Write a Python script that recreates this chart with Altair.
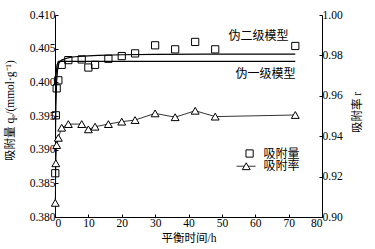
import altair as alt
import pandas as pd

FONT = "Liberation Serif, Times New Roman, serif, Noto Sans CJK SC"

# observed data
times = [0.083, 0.25, 0.5, 1, 2, 4, 8, 10, 12, 16, 20, 24, 30, 36, 42, 48, 72]
q_obs = [0.3865, 0.3951, 0.3991, 0.4003, 0.4026, 0.4033, 0.4034, 0.4022, 0.4026,
         0.4035, 0.4039, 0.4043, 0.4055, 0.4049, 0.4060, 0.4049, 0.4054]
r_obs = [0.907, 0.9266, 0.9356, 0.9392, 0.9442, 0.9460, 0.9460, 0.9434, 0.9447,
         0.9460, 0.9472, 0.9480, 0.9513, 0.9494, 0.9526, 0.9497, 0.9505]

# model curves
pfo_t = [0, 0.05, 0.1, 0.2, 0.35, 0.6, 1.0, 1.5, 72]
pfo_q = [0.380, 0.3885, 0.3935, 0.3985, 0.4012, 0.4026, 0.4030, 0.4031, 0.4031]
pso_t = [0, 0.1, 0.25, 0.5, 0.8, 1.2, 2, 3, 4.5, 6, 8.5, 13, 20, 30, 45, 72]
pso_q = [0.380, 0.3905, 0.3965, 0.4003, 0.4020, 0.4029, 0.4033, 0.4035, 0.4037,
         0.4038, 0.4039, 0.4040, 0.40410, 0.40415, 0.40418, 0.4042]

# annotations
model_labels = ["伪二级模型", "伪一级模型"]
model_label_t = [61.0, 63.1]
model_label_q = [0.4069, 0.4012]
legend_labels = ["吸附量", "吸附率"]
legend_label_t = [62.5, 62.5]
legend_label_q = [0.38943, 0.38754]
legend_sym_t = [58.3, 57.3]
legend_line_t = [54.4, 60.1]

obs = pd.DataFrame({"t": times, "q": q_obs, "r": r_obs})
curves = pd.concat([
    pd.DataFrame({"t": pfo_t, "q": pfo_q, "m": "pfo"}),
    pd.DataFrame({"t": pso_t, "q": pso_q, "m": "pso"}),
])
mlab = pd.DataFrame({"t": model_label_t, "q": model_label_q, "txt": model_labels})
llab = pd.DataFrame({"t": legend_label_t, "q": legend_label_q, "txt": legend_labels})
lsq = pd.DataFrame({"t": [legend_sym_t[0]], "q": [legend_label_q[0]]})
ltri = pd.DataFrame({"t": [legend_sym_t[1]], "q": [legend_label_q[1]]})
lline = pd.DataFrame({"t": [legend_line_t[0]], "t2": [legend_line_t[1]], "q": [legend_label_q[1]]})

x_scale = alt.Scale(domain=[0, 80], nice=False, zero=False)
q_scale = alt.Scale(domain=[0.380, 0.410], nice=False, zero=False)
r_scale = alt.Scale(domain=[0.90, 1.00], nice=False, zero=False)

common_axis = dict(
    grid=False, domainColor="black", domainWidth=1, tickColor="black", tickWidth=1,
    tickSize=alt.ExprRef(expr="-3"), labelFont=FONT, labelFontSize=11.5,
    labelColor="black", titleFont=FONT, titleFontSize=11.5, titleColor="black",
    titleFontWeight="normal",
)

x_axis = alt.Axis(values=list(range(0, 81, 10)), title="平衡时间/h", labelPadding=3,
                  titleY=21, titleBaseline="middle", **common_axis)
q_axis = alt.Axis(values=[0.380, 0.385, 0.390, 0.395, 0.400, 0.405, 0.410], format=".3f",
                  title="吸附量 qₑ/(mmol·g⁻¹)", labelPadding=3, titleX=-45, titleY=95,
                  titleAngle=270, titleBaseline="middle", titleAlign="center", **common_axis)
r_axis = alt.Axis(values=[0.90, 0.92, 0.94, 0.96, 0.98, 1.00], format=".2f", orient="right",
                  title="吸附率 r", labelPadding=3, titleX=35, titleY=97,
                  titleAngle=270, titleBaseline="middle", titleAlign="center", **common_axis)

X = alt.X("t:Q", scale=x_scale, axis=x_axis)
Yq = alt.Y("q:Q", scale=q_scale, axis=q_axis)
Yr = alt.Y("r:Q", scale=r_scale, axis=r_axis)

curve_layer = alt.Chart(curves).mark_line(color="black", strokeWidth=1.2, clip=True).encode(
    x=X, y=Yq, detail="m:N")
sq_layer = alt.Chart(obs).mark_point(shape="square", filled=False, color="black",
                                     strokeWidth=1, size=52, opacity=1).encode(x=X, y=Yq)
mlab_layer = alt.Chart(mlab).mark_text(font=FONT, fontSize=12, color="black",
                                       align="center", baseline="middle").encode(
    x=X, y=Yq, text="txt:N")
llab_layer = alt.Chart(llab).mark_text(font=FONT, fontSize=12, color="black",
                                       align="left", baseline="middle").encode(
    x=X, y=Yq, text="txt:N")
lsq_layer = alt.Chart(lsq).mark_point(shape="square", filled=False, color="black",
                                      strokeWidth=1, size=52, opacity=1).encode(x=X, y=Yq)
lline_layer = alt.Chart(lline).mark_rule(color="black", strokeWidth=0.8).encode(
    x=X, x2="t2:Q", y=Yq)
ltri_layer = alt.Chart(ltri).mark_point(shape="triangle-up", filled=True, fill="white",
                                        stroke="black", strokeWidth=1, size=62,
                                        opacity=1).encode(x=X, y=Yq)

left = alt.layer(curve_layer, sq_layer, mlab_layer, llab_layer, lsq_layer,
                 lline_layer, ltri_layer)

tri_line = alt.Chart(obs).mark_line(color="black", strokeWidth=0.8).encode(x=X, y=Yr)
tri_pts = alt.Chart(obs).mark_point(shape="triangle-up", filled=True, fill="white",
                                    stroke="black", strokeWidth=1, size=62,
                                    opacity=1).encode(x=X, y=Yr)
right = alt.layer(tri_line, tri_pts)

chart = alt.layer(left, right).resolve_scale(y="independent").properties(
    width=267, height=202,
    autosize=alt.AutoSizeParams(type="none"),
    padding={"left": 55, "top": 15, "right": 53, "bottom": 32},
    background="white",
).configure_view(stroke=None)

chart.save("out.html", embed_options={"renderer": "svg", "actions": False})
